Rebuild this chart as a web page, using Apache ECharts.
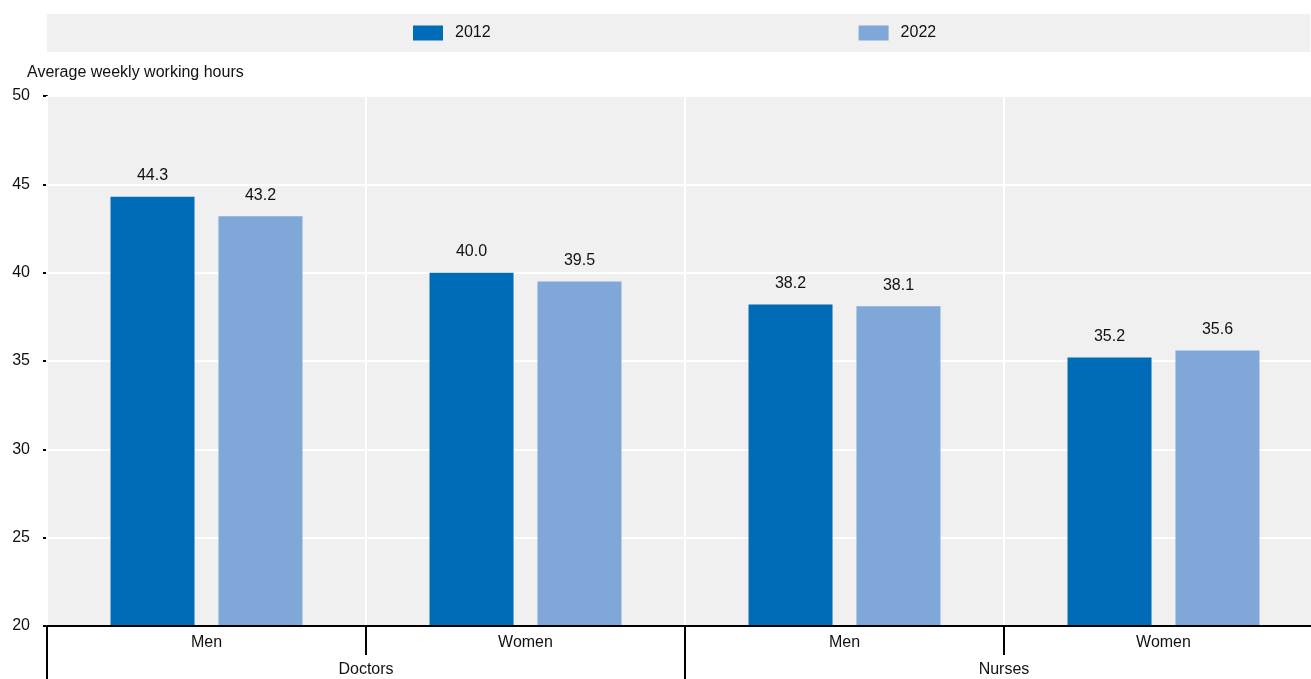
<!DOCTYPE html>
<html>
<head>
<meta charset="utf-8">
<script src="https://cdn.jsdelivr.net/npm/echarts@6/dist/echarts.min.js"></script>
<style>
html,body{margin:0;padding:0;background:#fff;overflow:hidden;width:1311px;height:679px;}
#chart{width:1323px;height:679px;}
</style>
</head>
<body>
<div id="chart"></div>
<script>
const subCategories = ["Men", "Women", "Men", "Women"];
const groups = ["Doctors", "Nurses"];
const seriesNames = ["2012", "2022"];
const values2012 = [44.3, 40.0, 38.2, 35.2];
const values2022 = [43.2, 39.5, 38.1, 35.6];
const yTicks = [20, 25, 30, 35, 40, 45, 50];
const yTitle = "Average weekly working hours";

const FONT = "'Liberation Sans', Arial, sans-serif";
const TXT = '#111';
const chart = echarts.init(document.getElementById('chart'), null, {renderer: 'canvas'});

const labelStyle = {
  show: true, position: 'top', distance: 13,
  fontFamily: FONT, fontSize: 16, color: TXT,
  formatter: p => Number(p.value).toFixed(1)
};

chart.setOption({
  animation: false,
  backgroundColor: '#ffffff',
  textStyle: {fontFamily: FONT},
  title: {
    text: yTitle, left: 22, top: 60,
    textStyle: {fontFamily: FONT, fontSize: 16, fontWeight: 'normal', color: TXT}
  },
  legend: {
    data: seriesNames,
    left: 47, top: 14,
    padding: [11, 374, 11, 366],
    backgroundColor: '#f0f0f0',
    itemWidth: 30, itemHeight: 15, itemGap: 368,
    icon: 'rect',
    textStyle: {fontFamily: FONT, fontSize: 16, color: TXT, padding: [2,0,0,7]}
  },
  grid: {
    left: 47, right: 0, top: 96, bottom: 53,
    show: true, backgroundColor: '#f0f0f0', borderWidth: 0
  },
  xAxis: [
    {
      type: 'category', data: subCategories, position: 'bottom',
      axisLine: {show: true, lineStyle: {color: '#000', width: 2}},
      axisTick: {show: true, length: 29, lineStyle: {color: '#000', width: 2}},
      axisLabel: {fontFamily: FONT, fontSize: 16, color: TXT, margin: 9},
      splitLine: {show: true, lineStyle: {color: '#ffffff', width: 2}},
      z: 5
    },
    {
      type: 'category', data: groups, position: 'bottom',
      axisLine: {show: false},
      axisTick: {show: true, length: 55, lineStyle: {color: '#000', width: 2}},
      axisLabel: {fontFamily: FONT, fontSize: 16, color: TXT, margin: 36},
      splitLine: {show: false}
    }
  ],
  yAxis: {
    type: 'value', min: yTicks[0], max: yTicks[yTicks.length - 1], interval: 5,
    axisLine: {show: true, lineStyle: {color: '#000', width: 2}},
    axisTick: {show: true, length: 4, lineStyle: {color: '#000', width: 2}},
    axisLabel: {fontFamily: FONT, fontSize: 16, color: TXT, margin: 17},
    splitLine: {show: true, lineStyle: {color: '#ffffff', width: 2}}
  },
  series: [
    {
      name: seriesNames[0], type: 'bar', xAxisIndex: 0, data: values2012,
      barWidth: 84, barGap: '28.5%',
      itemStyle: {color: '#006bb6'},
      label: labelStyle
    },
    {
      name: seriesNames[1], type: 'bar', xAxisIndex: 0, data: values2022,
      barWidth: 84, barGap: '28.5%',
      itemStyle: {color: '#7fa8d9'},
      label: labelStyle
    }
  ]
});
</script>
</body>
</html>
